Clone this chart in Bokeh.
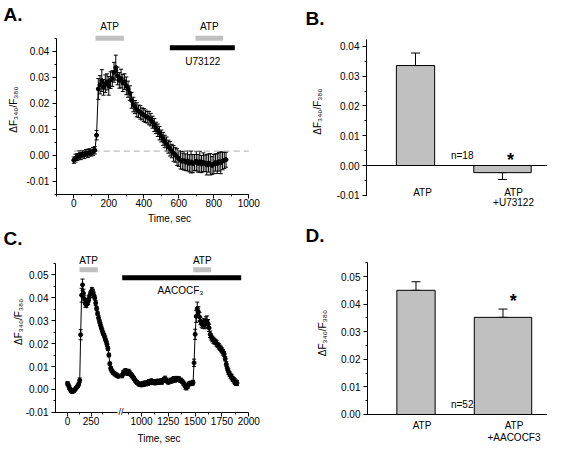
import math
from bokeh.plotting import figure
from bokeh.models import (Range1d, ColumnDataSource, Whisker, TeeHead, Label, LinearAxis,
                          FixedTicker, SingleIntervalTicker, NumeralTickFormatter)
from bokeh.layouts import row, column
from bokeh.embed import file_html
from bokeh.resources import INLINE
from bokeh.core.properties import value

FONT = "Liberation Sans"
YLABEL = "ΔF₃₄₀/F₃₈₀"
GRAY = "#c0c0c0"

# ---------------- data ----------------
# Panel A: ATP response, then ATP in presence of U73122
a_time = list(range(0, 880, 10))
a_ratio = [
    -0.0018, -0.0010, -0.0006, 0.0002, -0.0002, 0.0006, 0.0003, 0.0010, 0.0008, 0.0012,
    0.0010, 0.0016, 0.0020, 0.0078, 0.0256, 0.0272, 0.0288, 0.0262, 0.0276, 0.0283,
    0.0268, 0.0290, 0.0296, 0.0320, 0.0338, 0.0306, 0.0289, 0.0296, 0.0279, 0.0284,
    0.0268, 0.0255, 0.0240, 0.0212, 0.0196, 0.0186, 0.0176, 0.0170, 0.0166, 0.0160,
    0.0156, 0.0151, 0.0147, 0.0144, 0.0138, 0.0128, 0.0117, 0.0106, 0.0097, 0.0086,
    0.0075, 0.0064, 0.0054, 0.0044, 0.0034, 0.0026, 0.0017, 0.0008, 0.0002, -0.0006,
    -0.0012, -0.0018, -0.0022, -0.0020, -0.0026, -0.0021, -0.0030, -0.0025, -0.0031, -0.0027,
    -0.0022, -0.0030, -0.0024, -0.0033, -0.0026, -0.0030, -0.0036, -0.0029, -0.0034, -0.0038,
    -0.0033, -0.0027, -0.0031, -0.0024, -0.0028, -0.0021, -0.0019, -0.0016]
a_sem = [
    0.0012, 0.0015, 0.0013, 0.0016, 0.0014, 0.0012, 0.0015, 0.0013, 0.0016, 0.0014,
    0.0012, 0.0015, 0.0014, 0.0018, 0.0040, 0.0035, 0.0042, 0.0030, 0.0034, 0.0031,
    0.0036, 0.0032, 0.0030, 0.0038, 0.0048, 0.0034, 0.0030, 0.0036, 0.0033, 0.0030,
    0.0034, 0.0031, 0.0028, 0.0030, 0.0028, 0.0025, 0.0027, 0.0024, 0.0026, 0.0023,
    0.0025, 0.0024, 0.0022, 0.0026, 0.0024, 0.0023, 0.0025, 0.0022, 0.0024, 0.0026,
    0.0023, 0.0025, 0.0024, 0.0027, 0.0025, 0.0028, 0.0026, 0.0030, 0.0028, 0.0032,
    0.0030, 0.0034, 0.0031, 0.0036, 0.0032, 0.0038, 0.0033, 0.0042, 0.0035, 0.0031,
    0.0037, 0.0034, 0.0040, 0.0033, 0.0036, 0.0032, 0.0039, 0.0035, 0.0041, 0.0034,
    0.0037, 0.0033, 0.0038, 0.0036, 0.0042, 0.0034, 0.0031, 0.0029]
a_atp_periods = [(124, 286), (695, 853)]
a_u73122_period = (549, 920)
a_baseline = 0.0017
a_baseline_span = (0, 1000)

# Panel B
b_categories = ["ATP", "ATP\n+U73122"]
b_means = [0.0336, -0.0024]
b_sems = [0.0042, 0.0023]
b_n = 18

# Panel C: ATP response, then ATP in presence of AACOCF3 (broken time axis)
c_time_early = list(range(0, 550, 10))
c_ratio_early = [
    0.0026, 0.0018, 0.0008, 0.0000, -0.0006, -0.0009, -0.0008, -0.0004, 0.0000, 0.0006,
    0.0010, 0.0016, 0.0024, 0.0040, 0.0238, 0.0410, 0.0455, 0.0418, 0.0392, 0.0372,
    0.0368, 0.0378, 0.0382, 0.0398, 0.0412, 0.0420, 0.0432, 0.0425, 0.0410, 0.0398,
    0.0376, 0.0352, 0.0330, 0.0312, 0.0296, 0.0282, 0.0268, 0.0255, 0.0244, 0.0235,
    0.0222, 0.0210, 0.0196, 0.0178, 0.0150, 0.0112, 0.0092, 0.0082, 0.0076, 0.0072,
    0.0068, 0.0066, 0.0063, 0.0060, 0.0058]
c_sem_early = [
    0.0008, 0.0007, 0.0008, 0.0007, 0.0006, 0.0007, 0.0006, 0.0007, 0.0006, 0.0007,
    0.0006, 0.0007, 0.0008, 0.0010, 0.0022, 0.0030, 0.0025, 0.0018, 0.0015, 0.0014,
    0.0012, 0.0013, 0.0012, 0.0011, 0.0012, 0.0010, 0.0012, 0.0011, 0.0010, 0.0009,
    0.0010, 0.0009, 0.0008, 0.0009, 0.0008, 0.0009, 0.0008, 0.0009, 0.0008, 0.0008,
    0.0009, 0.0008, 0.0010, 0.0009, 0.0008, 0.0007, 0.0008, 0.0007, 0.0008, 0.0007,
    0.0008, 0.0007, 0.0008, 0.0007, 0.0008]
c_time_late = list(range(820, 1900, 10))
c_ratio_late = [
    0.0060, 0.0072, 0.0076, 0.0080, 0.0074, 0.0070, 0.0078, 0.0072, 0.0066, 0.0060,
    0.0054, 0.0048, 0.0040, 0.0034, 0.0030, 0.0026, 0.0022, 0.0024, 0.0020, 0.0026,
    0.0022, 0.0028, 0.0024, 0.0030, 0.0026, 0.0034, 0.0030, 0.0038, 0.0036, 0.0030,
    0.0034, 0.0028, 0.0032, 0.0036, 0.0030, 0.0034, 0.0038, 0.0032, 0.0040, 0.0044,
    0.0048, 0.0040, 0.0036, 0.0032, 0.0036, 0.0040, 0.0036, 0.0042, 0.0046, 0.0040,
    0.0044, 0.0048, 0.0044, 0.0046, 0.0040, 0.0040, 0.0034, 0.0028, 0.0022, 0.0012,
    0.0008, 0.0014, 0.0024, 0.0026, 0.0028, 0.0026, 0.0030, 0.0116, 0.0240, 0.0318,
    0.0352, 0.0338, 0.0316, 0.0298, 0.0286, 0.0282, 0.0290, 0.0284, 0.0292, 0.0298,
    0.0286, 0.0268, 0.0240, 0.0228, 0.0220, 0.0214, 0.0210, 0.0206, 0.0200, 0.0194,
    0.0188, 0.0182, 0.0176, 0.0170, 0.0162, 0.0154, 0.0134, 0.0110, 0.0092, 0.0078,
    0.0068, 0.0060, 0.0054, 0.0046, 0.0040, 0.0034, 0.0030, 0.0028]
c_sem_late = [
    0.0009, 0.0010, 0.0009, 0.0011, 0.0010, 0.0009, 0.0010, 0.0009, 0.0008, 0.0009,
    0.0008, 0.0009, 0.0008, 0.0007, 0.0008, 0.0007, 0.0008, 0.0007, 0.0008, 0.0007,
    0.0008, 0.0009, 0.0008, 0.0007, 0.0008, 0.0009, 0.0008, 0.0007, 0.0008, 0.0009,
    0.0008, 0.0007, 0.0008, 0.0009, 0.0008, 0.0007, 0.0008, 0.0009, 0.0008, 0.0009,
    0.0010, 0.0009, 0.0008, 0.0009, 0.0008, 0.0009, 0.0008, 0.0009, 0.0010, 0.0009,
    0.0008, 0.0009, 0.0010, 0.0009, 0.0008, 0.0009, 0.0008, 0.0009, 0.0010, 0.0011,
    0.0010, 0.0009, 0.0008, 0.0009, 0.0008, 0.0009, 0.0010, 0.0016, 0.0022, 0.0026,
    0.0028, 0.0022, 0.0018, 0.0016, 0.0015, 0.0016, 0.0018, 0.0020, 0.0024, 0.0022,
    0.0018, 0.0016, 0.0014, 0.0013, 0.0012, 0.0013, 0.0012, 0.0011, 0.0012, 0.0011,
    0.0012, 0.0011, 0.0012, 0.0011, 0.0012, 0.0011, 0.0010, 0.0011, 0.0010, 0.0011,
    0.0010, 0.0011, 0.0012, 0.0011, 0.0012, 0.0013, 0.0012, 0.0011]
c_atp_periods = [(128, 322), (1482, 1650)]
c_aacocf3_period = (820, 1929)

# Panel D
d_categories = ["ATP", "ATP\n+AACOCF3"]
d_means = [0.0450, 0.0352]
d_sems = [0.0031, 0.0030]
d_n = 52


# ---------------- helpers ----------------
def make_fig(width, height, xr, yr, extra_x=None):
    p = figure(width=width, height=height, x_range=xr, y_range=yr,
               output_backend="svg", toolbar_location=None, min_border=0,
               x_axis_location=None, y_axis_location=None)
    if extra_x:
        p.extra_x_ranges = extra_x
    p.outline_line_color = None
    p.grid.visible = False
    p.background_fill_color = "white"
    p.border_fill_color = "white"
    return p


def add_axis(p, side, loc, bounds, ticker, formatter=None, range_name=None, standoff=2):
    kw = {}
    if range_name:
        kw["x_range_name"] = range_name
    ax = LinearAxis(fixed_location=loc, bounds=bounds, ticker=ticker, **kw)
    if formatter is not None:
        ax.formatter = formatter
    ax.axis_line_color = "black"
    ax.axis_line_width = 1
    ax.major_tick_line_color = "black"
    ax.minor_tick_line_color = "black"
    ax.major_tick_out = 4
    ax.major_tick_in = 0
    ax.minor_tick_out = 2
    ax.minor_tick_in = 0
    ax.major_label_text_font = FONT
    ax.major_label_text_font_size = "10px"
    ax.major_label_text_color = "black"
    ax.major_label_standoff = standoff
    p.add_layout(ax, side)
    return ax


def add_yaxis(p, loc, bounds):
    return add_axis(p, "left", loc, bounds,
                    SingleIntervalTicker(interval=0.01, num_minor_ticks=2),
                    NumeralTickFormatter(format="0.00"), standoff=3)


def text_label(p, x, y, text, size="10px", bold=False, align="center", angle=0.0,
               range_name=None):
    kw = {}
    if range_name:
        kw["x_range_name"] = range_name
    p.add_layout(Label(x=x, y=y, text=text, text_align=align, text_baseline="middle",
                       angle=angle, text_font=FONT, text_font_size=size,
                       text_font_style="bold" if bold else "normal", text_color="black", **kw))


def draw_trace(p, t, v, e, range_name="default"):
    src = ColumnDataSource(dict(t=t, v=v,
                                lo=[a - b for a, b in zip(v, e)],
                                hi=[a + b for a, b in zip(v, e)]))
    p.add_layout(Whisker(source=src, base="t", lower="lo", upper="hi",
                         x_range_name=range_name, line_color="black", line_width=1,
                         lower_head=TeeHead(size=4, line_color="black", line_width=1),
                         upper_head=TeeHead(size=4, line_color="black", line_width=1)))
    p.line("t", "v", source=src, line_color="black", line_width=1, x_range_name=range_name)
    p.scatter("t", "v", source=src, size=4, fill_color="black", line_color="black",
              x_range_name=range_name)


def draw_period(p, periods, level, color, range_name="default"):
    p.segment(x0=[s for s, e in periods], x1=[e for s, e in periods], y0=level, y1=level,
              line_color=color, line_width=5, line_cap="butt", x_range_name=range_name)


def draw_bar_panel(p, cats, means, sems, axis_x, x_end, line_ys, offsets):
    pos = [i + 0.5 for i in range(len(cats))]
    p.vbar(x=pos, top=means, bottom=0, width=[0.44, 0.66], fill_color=GRAY,
           line_color="black", line_width=1)
    ends = [m + (s if m >= 0 else -s) for m, s in zip(means, sems)]
    src = ColumnDataSource(dict(c=pos, lo=[min(m, e) for m, e in zip(means, ends)],
                                hi=[max(m, e) for m, e in zip(means, ends)]))
    p.add_layout(Whisker(source=src, base="c", lower="lo", upper="hi",
                         line_color="black", line_width=1,
                         lower_head=TeeHead(size=9, line_color="black", line_width=1),
                         upper_head=TeeHead(size=9, line_color="black", line_width=1)))
    # category axis line at zero
    add_axis(p, "below", 0, (axis_x, x_end), FixedTicker(ticks=[], minor_ticks=[]))
    # category labels (possibly two lines)
    for li, ly in enumerate(line_ys):
        xs, ts, offs = [], [], []
        for x, c, o in zip(pos, cats, offsets):
            parts = c.split("\n")
            if li < len(parts):
                xs.append(x)
                ts.append(parts[li])
                offs.append(o)
        p.text(x=xs, y=ly, text=ts, x_offset=offs, text_align="center",
               text_baseline="middle", text_font=value(FONT), text_font_size="10px",
               text_color="black")


# ---------------- Panel A ----------------
pA = make_fig(272, 226, Range1d(-418.9, 1135.4), Range1d(-0.027308, 0.059615))
add_yaxis(pA, -100, (-0.015, 0.045))
add_axis(pA, "below", -0.015, (-100, 1000),
         SingleIntervalTicker(interval=200, num_minor_ticks=2), standoff=1)
pA.segment(x0=[a_baseline_span[0]], x1=[a_baseline_span[1]], y0=[a_baseline], y1=[a_baseline],
           line_color="#aaaaaa", line_width=1, line_dash="6 4")
draw_trace(pA, a_time, a_ratio, a_sem)
draw_period(pA, a_atp_periods, 0.0451, GRAY)
draw_period(pA, [a_u73122_period], 0.0414, "black")
for s, e in a_atp_periods:
    text_label(pA, (s + e) / 2, 0.0496, "ATP")
text_label(pA, 737, 0.0362, "U73122")
text_label(pA, 546.9, -0.02423, "Time, sec")
text_label(pA, -344.6, 0.01769, YLABEL, angle=math.pi / 2)
text_label(pA, -401.7, 0.05435, "A.", size="19px", bold=True, align="left")

# ---------------- Panel B ----------------
pB = make_fig(275, 226, Range1d(-1.1437, 2.0172), Range1d(-0.020504, 0.055462))
add_yaxis(pB, -0.0632, (-0.01, 0.0424))
draw_bar_panel(pB, b_categories, b_means, b_sems, -0.0632, 2.0172,
               [-0.009076, -0.012437], [7, 11])
text_label(pB, 1.0368, 0.00336, f"n={b_n}")
text_label(pB, 1.592, 0.0020, "*", size="18px", bold=True)
text_label(pB, -0.6322, 0.01815, YLABEL, angle=math.pi / 2)
text_label(pB, -0.7644, 0.04934, "B.", size="19px", bold=True, align="left")

# ---------------- Panel C (broken time axis, two x scales) ----------------
pC = make_fig(272, 219, Range1d(-712.8, 2180.9), Range1d(-0.024348, 0.070870),
              extra_x={"late": Range1d(-314.1, 2220.9)})
add_yaxis(pC, -127.66, (-0.01, 0.055))
add_axis(pC, "below", -0.01, (-127.66, 532),
         FixedTicker(ticks=[0, 250], minor_ticks=[125, 375]), standoff=1)
add_axis(pC, "below", -0.01, (823, 2000),
         FixedTicker(ticks=[1000, 1250, 1500, 1750, 2000],
                     minor_ticks=[875, 1125, 1375, 1625, 1875]),
         range_name="late", standoff=1)
draw_trace(pC, c_time_early, c_ratio_early, c_sem_early)
draw_trace(pC, c_time_late, c_ratio_late, c_sem_late, range_name="late")
draw_period(pC, c_atp_periods[:1], 0.0521, GRAY)
draw_period(pC, c_atp_periods[1:], 0.0521, GRAY, range_name="late")
draw_period(pC, [c_aacocf3_period], 0.04857, "black", range_name="late")
text_label(pC, sum(c_atp_periods[0]) / 2, 0.05628, "ATP")
text_label(pC, sum(c_atp_periods[1]) / 2, 0.05628, "ATP", range_name="late")
text_label(pC, 1363, 0.0430, "AACOCF₃", range_name="late")
text_label(pC, 808.9, -0.0098, "//", size="9px", range_name="late")
text_label(pC, 1163.1, -0.02130, "Time, sec", range_name="late")
text_label(pC, -521.3, 0.0294, YLABEL, angle=math.pi / 2)
text_label(pC, -680.9, 0.06565, "C.", size="19px", bold=True, align="left")

# ---------------- Panel D ----------------
pD = make_fig(275, 219, Range1d(-1.1494, 2.0115), Range1d(-0.011232, 0.068116))
add_yaxis(pD, -0.0575, (0, 0.055))
draw_bar_panel(pD, d_categories, d_means, d_sems, -0.0575, 2.0115,
               [-0.003986, -0.008333], [6, 11])
text_label(pD, 1.031, 0.0035, f"n={d_n}")
text_label(pD, 1.617, 0.0412, "*", size="18px", bold=True)
text_label(pD, -0.5747, 0.0295, YLABEL, angle=math.pi / 2)
text_label(pD, -0.7701, 0.06486, "D.", size="19px", bold=True, align="left")

layout = column(row(pA, pB), row(pC, pD))
open("out.html", "w").write(file_html(layout, INLINE))
